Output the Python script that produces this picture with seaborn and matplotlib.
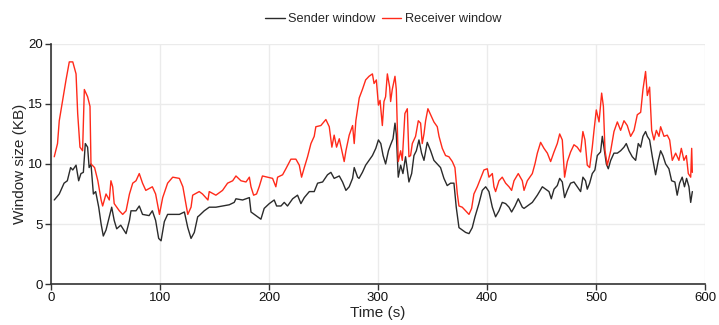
import matplotlib
matplotlib.use("Agg")
import matplotlib.pyplot as plt
import seaborn as sns
import pandas as pd

sender_t = [3, 7.6, 12, 15, 18, 20, 23, 25.4, 27.5, 29.7, 31.5, 33.6, 35, 36.7, 38.9, 41, 43.8, 46, 48, 50.5,
            53.5, 55.7, 58, 60.3, 64, 68.9, 72, 73.4, 78, 81, 84, 90, 93, 96, 98.8, 101, 104, 107, 111.7, 117.8,
            122.4, 125.5, 128.5, 131.5, 134.6, 136, 140.6, 145.2, 151.3, 157.4, 163.5, 168.1, 169.7, 175.8, 182,
            183.5, 186.5, 189.5, 192.6, 195.6, 200.3, 204.8, 207, 211, 214, 217, 221.7, 226.2, 229.3, 232.4, 237,
            241.5, 244.6, 249.2, 253.7, 256.8, 259.8, 264.5, 267.5, 270.6, 273.6, 276.7, 278.2, 281.3,
            282.6, 285.7, 288.7, 291.8, 294.9, 298, 300.4, 302.6, 304.7, 307, 309.6, 311.6, 313.8, 315.6, 316.8,
            318.6, 320.8, 322.9, 325.3, 328.4, 330.9, 333, 335.2, 337.6, 340, 342.2, 345.2, 348.3, 351.3, 354.4,
            357.4, 360.5, 363.5, 366.6, 369.7, 371.8, 374.3, 377.3, 380.4, 383.5, 386.5, 389, 392.6, 395.7, 398.8,
            401.8, 404.9, 407.9, 411, 414, 417.1, 420.2, 422.6, 425.7, 428.7,
            432.4, 434, 437, 441.6, 446.2, 450.8, 453.8, 456.9, 459, 461.5, 464.5, 466.7, 469.1, 471.2, 473.7,
            476.7, 479.8, 482.8, 485.9, 488, 490.4, 492, 494.2, 496.6, 499, 501.2, 504.2, 505.8, 507.3, 509.5,
            511.3, 513.5, 516.5, 519.6, 522.6, 525.7, 527.8, 530.3, 533.3, 536.4, 538.8, 541, 543.1, 545.5, 547.1,
            549.2, 551.7, 554.7, 557.2, 559.3, 561.4, 563.9, 566.9, 569.4, 572.4, 574.5, 576.7, 579.1, 581.2,
            583.1, 585.3, 586.9, 588.4]
sender_v = [7.0, 7.5, 8.4, 8.6, 9.7, 9.5, 9.9, 8.6, 9.2, 9.3, 11.7, 11.4, 9.7, 10.0, 7.5, 7.7, 6.4, 5.0, 4.0, 4.5,
            5.6, 6.4, 5.3, 4.6, 4.9, 4.2, 5.3, 6.1, 6.1, 6.5, 5.8, 5.7, 6.1, 5.3, 3.8, 3.6, 5.2, 5.8, 5.8, 5.8,
            6.0, 4.7, 3.8, 4.3, 5.6, 5.7, 6.1, 6.4, 6.4, 6.5, 6.6, 6.8, 7.1, 7.0, 7.2,
            6.0, 5.8, 5.6, 5.4, 6.3, 6.7, 7.0, 6.5, 6.5, 6.8, 6.5, 7.1, 7.4, 6.7, 7.2, 7.7,
            7.7, 8.4, 8.5, 9.1, 9.3, 8.8, 9.0, 8.5, 7.8, 8.1, 8.8, 9.7, 8.9,
            8.8, 9.3, 9.9, 10.3, 10.7, 11.3, 12.0, 11.7, 10.7, 10.0, 11.1, 11.6, 12.1, 13.4, 12.5,
            8.9, 9.9, 9.2, 10.6, 8.5, 9.2, 10.7, 11.1, 12.0, 10.9, 10.3, 11.8, 11.1, 10.3, 10.0,
            9.7, 8.8, 8.2, 8.4, 8.4, 6.4, 4.7, 4.5, 4.3, 4.2, 4.7, 5.6, 6.7, 7.8, 8.1,
            7.7, 6.4, 5.6, 6.1, 6.8, 6.7, 6.4, 6.0, 6.5, 7.1,
            6.4, 6.3, 6.5, 6.8, 7.4, 8.1, 7.9, 7.7, 7.1, 7.9, 8.2, 8.8, 8.5, 7.2, 7.8,
            8.4, 8.5, 8.1, 7.7, 8.9, 8.6, 7.9, 8.4, 9.2, 9.5, 10.7, 11.0, 12.3, 11.4, 10.0,
            9.6, 10.3, 10.9, 10.9, 11.1, 11.4, 11.7, 11.1, 10.6, 10.3, 11.7, 11.4, 12.3, 12.7, 12.3,
            12.0, 10.6, 9.1, 10.3, 11.1, 10.7, 10.0, 9.6, 8.6, 8.5, 7.4, 8.4, 8.9, 8.1,
            8.8, 8.1, 6.8, 7.7]

receiver_t = [3, 6, 7.6, 10.7, 13.8, 16.8, 20, 23, 24.5, 26.6, 29, 30.6, 33.6, 35.8, 36.7, 40, 43, 46, 47.4, 50.5,
              53.5, 55, 56.6, 58, 62.7, 65.8, 68.9, 72, 75, 78, 81, 84, 87, 93, 96, 99.5, 102.5, 107, 111.7,
              117.8, 121, 125.5, 128.5, 130, 136, 139, 144, 145.2, 151.3, 157.4, 162, 166.7, 169.7, 174.3, 178.9,
              182, 183.5, 185.9, 188.6, 191, 194, 198.7, 203.3, 206.3, 207.9, 212.5, 215.5, 220.1, 224.7, 227.8,
              229.9, 232.4, 235.4, 238.5, 241.5, 243, 247.6, 252.2, 255.3, 257.7, 259.8, 262, 264.5, 266.9, 269,
              270.6, 273.6, 276.7, 278.2, 279.7, 282.8,
              285.7, 288.7, 291.8, 294.9, 296.4, 298.5, 300.4, 301.9, 304, 305.5, 307, 308.6, 310.7, 311.6, 313.1,
              315.6, 316.8, 318.6, 320.8, 322.3, 324.7, 326.9, 328.4, 329.9, 331.5, 334.5, 337, 339.1, 340.6,
              342.2, 343.7, 345.8, 348.3, 351.3, 354.4, 356, 359, 362, 365.1, 368.2, 370.6, 372.8, 374.3, 377.3,
              380.4, 383.5, 385.9, 388, 391.1, 394.2, 397.2, 400.3, 401.8, 404.9, 406.4, 407.9, 411, 414, 417.1,
              420.2, 422.6, 424.8, 428.7,
              432.4, 434, 437, 441.6, 444, 446.2, 449.2, 452.3, 455.4, 458.4, 461.5, 464.5, 466.7, 469.1, 471.2,
              473.7, 476.7, 479.8, 482.8, 485.9, 488, 489.9, 492, 494.2, 496.6, 498.2, 500.3, 502.8, 505.2, 506.8,
              508.3, 510.4, 513.5, 516.5, 519.6, 522.6, 525.7, 528.7, 531.8, 534.9, 537.9, 541, 543.1, 545.5,
              547.1, 549.2, 551.1, 553.2, 555.4, 557.8, 559.3, 562.4, 565.4, 567.6, 570, 573.1, 576.1, 578.3,
              580.7, 582.9, 584.7, 586.9, 587.8, 588.4]
receiver_v = [10.6, 11.7, 13.6, 15.3, 17.0, 18.5, 18.5, 17.5, 14.2, 11.4, 11.1, 16.2, 15.6, 14.8, 10.0, 9.7, 8.6,
              7.0, 6.5, 7.5, 7.0, 8.6, 8.1, 6.7, 6.1, 5.8, 6.1, 7.5, 8.4, 8.6, 9.2, 8.4, 7.8, 8.1, 7.5, 5.8, 7.2,
              8.4, 8.9, 8.8, 8.1, 5.8, 6.4, 7.4, 7.7, 7.5, 7.0, 7.7, 7.4, 7.8, 8.4, 8.6, 9.0, 8.6, 8.5,
              8.9, 8.1, 7.4, 7.5, 8.1, 9.0, 8.9, 8.8, 8.1, 8.9, 9.1, 9.6, 10.4, 10.4, 9.9,
              8.9, 9.7, 10.6, 11.7, 12.3, 13.1, 13.2, 13.7, 13.1, 11.4, 12.4, 11.4, 12.1, 11.1, 10.2,
              11.1, 12.4, 13.2, 11.7, 13.6, 15.5,
              16.2, 17.0, 17.3, 17.5, 16.7, 17.0, 14.9, 15.3, 13.2, 15.2, 15.6, 17.5, 16.4, 15.2, 16.2,
              17.3, 16.2, 10.2, 11.1, 10.3, 14.2, 14.6, 10.6, 10.7, 11.7, 12.3, 13.6, 13.4, 11.7,
              12.5, 13.6, 14.6, 14.1, 13.5, 13.1, 12.3, 11.3, 10.7, 10.6, 10.2, 9.7, 7.5, 6.5, 6.4,
              6.1, 5.8, 6.3, 7.5, 8.1, 8.8, 9.5, 9.6, 8.9, 9.2, 8.1, 7.7, 8.6, 8.9, 8.4,
              8.1, 7.8, 8.6, 9.2,
              8.6, 7.8, 8.6, 9.2, 10.0, 10.9, 11.8, 11.3, 10.9, 10.2, 11.0, 11.7, 12.5, 12.0, 8.9,
              10.2, 11.0, 11.6, 11.4, 11.0, 12.7, 12.0, 9.9, 9.7, 11.4, 12.8, 14.5, 13.5, 15.9, 14.8,
              11.1, 9.9, 11.1, 12.7, 13.5, 12.8, 13.6, 13.2, 12.3, 12.8, 14.1, 14.3, 16.2, 17.7,
              15.7, 16.4, 12.8, 12.0, 12.8, 12.3, 13.1, 12.3, 12.4, 12.0, 10.3, 10.9, 10.3, 11.3,
              10.3, 10.7, 9.2, 8.9, 11.3, 9.3]

series_names = ["Sender window", "Receiver window"]

df = pd.concat([
    pd.DataFrame({"Time (s)": sender_t, "Window size (KB)": sender_v, "series": series_names[0]}),
    pd.DataFrame({"Time (s)": receiver_t, "Window size (KB)": receiver_v, "series": series_names[1]}),
], ignore_index=True)

sns.set_theme(style="whitegrid")
plt.rcParams["font.family"] = ["Liberation Sans", "DejaVu Sans"]

fig = plt.figure(figsize=(7.19, 3.25), dpi=100)
ax = fig.add_axes([0.0709, 0.126, 0.9096, 0.739])

sns.lineplot(data=df, x="Time (s)", y="Window size (KB)", hue="series", sort=False,
             estimator=None, palette={"Sender window": "#2b2b2b", "Receiver window": "#ff2a1a"},
             linewidth=1.0, ax=ax)

ax.set_xlim(0, 600)
ax.set_ylim(0, 20)
ax.set_xticks([0, 100, 200, 300, 400, 500, 600])
ax.set_yticks([0, 5, 10, 15, 20])
ax.grid(True, color="#ebebeb", linewidth=1.0)
for s in ["top", "right"]:
    ax.spines[s].set_visible(False)
for s in ["left", "bottom"]:
    ax.spines[s].set_visible(True)
    ax.spines[s].set_color("#333333")
    ax.spines[s].set_linewidth(1.2)
ax.tick_params(axis="both", which="both", direction="out", length=4, width=1,
               color="#333333", labelsize=9.5, labelcolor="#111111", pad=2, bottom=True, left=True)
ax.set_xlabel("Time (s)", fontsize=11, labelpad=1)
ax.set_ylabel("Window size (KB)", fontsize=11, labelpad=0.5)

leg = ax.legend(loc="lower center", bbox_to_anchor=(0.508, 1.057), ncol=2, frameon=False,
                fontsize=9.2, handlelength=1.5, handletextpad=0.3, columnspacing=0.45, borderaxespad=0)

fig.savefig("out.png", dpi=100)
